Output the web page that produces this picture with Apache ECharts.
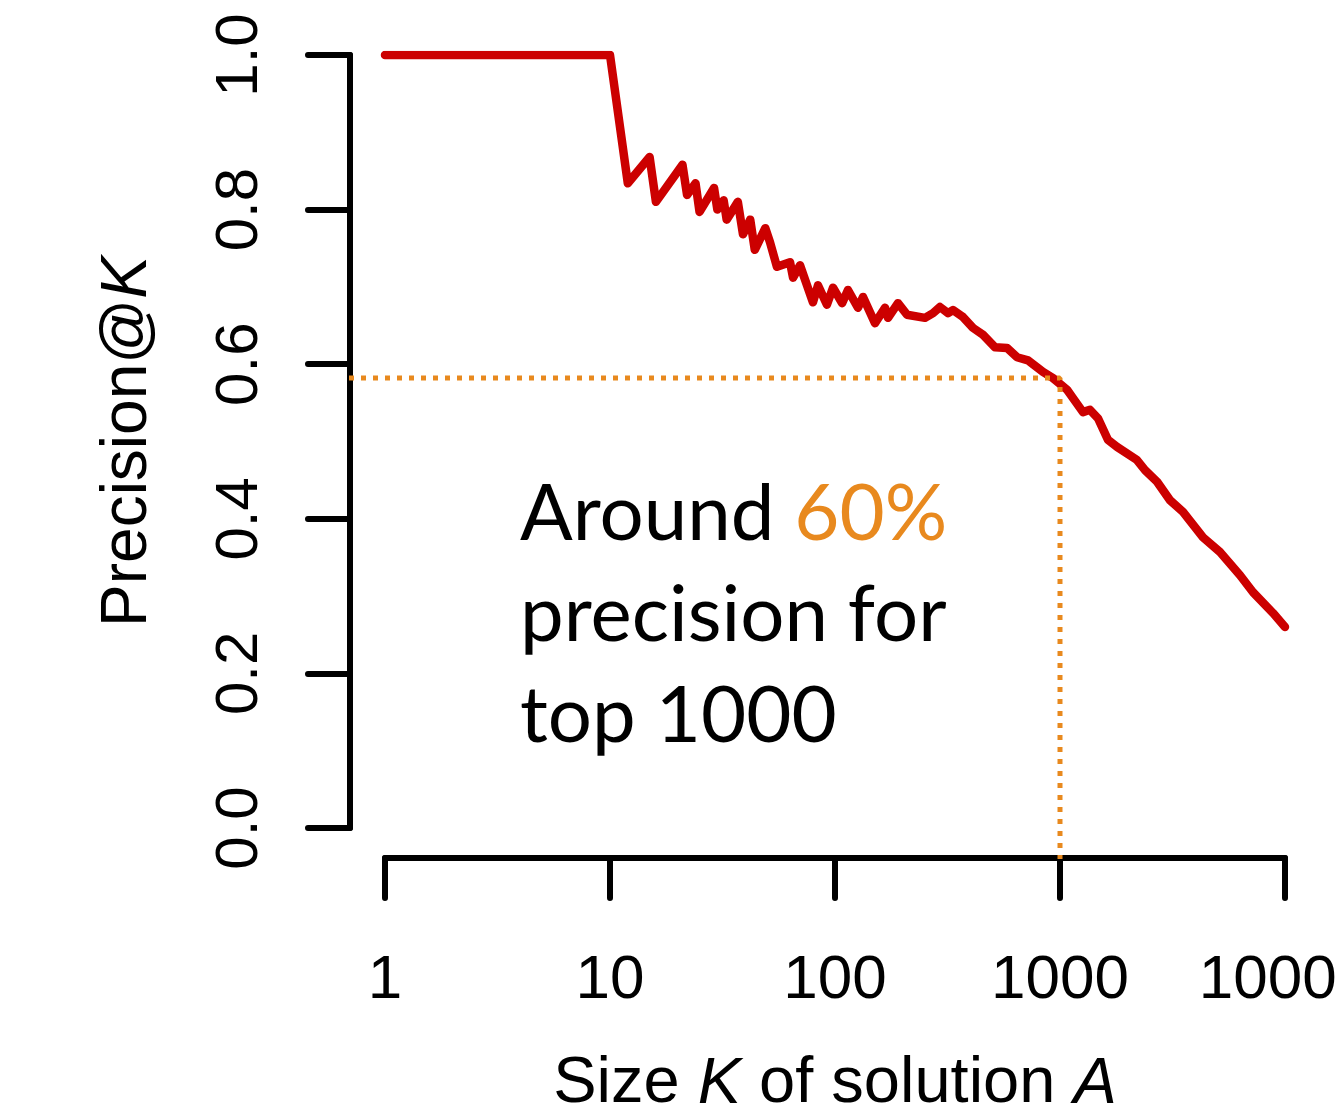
<!DOCTYPE html>
<html>
<head>
<meta charset="utf-8">
<script src="https://cdn.jsdelivr.net/npm/echarts@6/dist/echarts.min.js"></script>
<style>
html,body{margin:0;padding:0;background:#fff;}
#chart{width:1336px;height:1117px;}
</style>
</head>
<body>
<div id="chart"></div>
<script>
// Size K of solution A (log scale)
const kValues = [1,10,12,15,16,21,22,24,25,29,30,32,33,37,39,42,44,49,51.4,55.2,63.1,65.1,69.9,79.8,84,92.1,98,107.5,114.2,126.5,133.2,150.6,166.8,172,190.5,208.9,251.2,272.7,292.9,317.9,334.4,370.7,410.4,454.7,514,581.2,644,720.8,840.2,931.1,1075,1130,1265,1359,1475,1635,1792,2199,2387,2700,3083,3520,4322,5140,6310,7210,8850,10000];
// Precision@K
const precision = [1,1,0.834,0.868,0.810,0.858,0.819,0.834,0.797,0.828,0.800,0.812,0.787,0.810,0.768,0.787,0.748,0.776,0.758,0.726,0.732,0.712,0.728,0.680,0.702,0.677,0.699,0.679,0.696,0.673,0.687,0.653,0.673,0.660,0.679,0.664,0.660,0.666,0.674,0.666,0.670,0.661,0.647,0.638,0.622,0.621,0.609,0.605,0.590,0.582,0.567,0.558,0.538,0.541,0.530,0.502,0.493,0.476,0.463,0.448,0.424,0.409,0.376,0.357,0.327,0.305,0.278,0.260];
// Plot-region extents (data range padded by 4%, as in the original R plot)
const regionK = [0.6918, 14454];
const regionP = [-0.04, 1.04];
// Reference (dotted) guide at K = 1000, drawn from the left edge and down to the bottom edge
const refK = [0.6918, 1000, 1000];
const refP = [0.582, 0.582, -0.04];
// Tick labels
const xTickLabels = ["1","10","100","1000","10000"];
const yTickLabels = ["0.0","0.2","0.4","0.6","0.8","1.0"];
// Texts
const xTitle = "Size {i|K} of solution {i|A}";
const yTitle = "Precision@{i|K}";
const noteLine1 = "Around ";
const noteHighlight = "60%";
const noteLine2 = "precision for";
const noteLine3 = "top 1000";

const RED = '#CC0000';
const ORANGE = '#E8891E';
const FONT = '"Liberation Sans", Arial, sans-serif';

const mainData = kValues.map((k, i) => [k, precision[i]]);
const refData = refK.map((k, i) => [k, refP[i]]);

const chart = echarts.init(document.getElementById('chart'), null, {renderer: 'canvas'});

const axisLineStyle = {color: '#000', width: 6, cap: 'round'};
const tickLineStyle = {color: '#000', width: 6, cap: 'round'};

chart.setOption({
  animation: false,
  backgroundColor: '#fff',
  grid: [
    {left: 385, right: 51, top: 55, bottom: 289, containLabel: false, outerBoundsMode: 'none'},
    {left: 349, right: 15, top: 24, bottom: 258, containLabel: false, outerBoundsMode: 'none'}
  ],
  xAxis: [{
    gridIndex: 0,
    type: 'log',
    logBase: 10,
    min: 1,
    max: 10000,
    offset: 30,
    position: 'bottom',
    splitLine: {show: false},
    minorTick: {show: false},
    axisLine: {show: true, onZero: false, lineStyle: axisLineStyle},
    axisTick: {show: true, length: 40, lineStyle: tickLineStyle},
    axisLabel: {
      show: true, margin: 92, color: '#000', fontSize: 62, fontFamily: FONT,
      showMinLabel: true, showMaxLabel: true, hideOverlap: false,
      formatter: v => {
        const idx = Math.round(Math.log10(v));
        return xTickLabels[idx] !== undefined ? xTickLabels[idx] : '';
      }
    },
    name: xTitle,
    nameLocation: 'middle',
    nameGap: 194,
    nameTextStyle: {
      color: '#000', fontSize: 65, fontFamily: FONT,
      rich: {i: {fontStyle: 'italic', fontSize: 65, fontFamily: FONT, color: '#000'}}
    }
  }, {
    gridIndex: 1,
    type: 'log',
    logBase: 10,
    min: regionK[0],
    max: regionK[1],
    show: false
  }],
  yAxis: [{
    gridIndex: 0,
    type: 'value',
    min: 0,
    max: 1,
    interval: 0.2,
    offset: 35,
    position: 'left',
    splitLine: {show: false},
    axisLine: {show: true, onZero: false, lineStyle: axisLineStyle},
    axisTick: {show: true, length: 42, lineStyle: tickLineStyle},
    axisLabel: {
      show: true, rotate: 90, margin: 80, color: '#000', fontSize: 60, fontFamily: FONT,
      formatter: v => yTickLabels[Math.round(v * 5)]
    },
    name: yTitle,
    nameLocation: 'middle',
    nameGap: 190,
    nameRotate: 90,
    nameTextStyle: {
      color: '#000', fontSize: 64, fontFamily: FONT,
      rich: {i: {fontStyle: 'italic', fontSize: 64, fontFamily: FONT, color: '#000'}}
    }
  }, {
    gridIndex: 1,
    type: 'value',
    min: regionP[0],
    max: regionP[1],
    show: false
  }],
  series: [
    {
      type: 'line',
      xAxisIndex: 0,
      yAxisIndex: 0,
      data: mainData,
      showSymbol: false,
      symbol: 'none',
      lineStyle: {color: RED, width: 8.5, join: 'round', cap: 'round'},
      z: 2
    },
    {
      type: 'line',
      xAxisIndex: 1,
      yAxisIndex: 1,
      data: refData,
      showSymbol: false,
      symbol: 'none',
      clip: false,
      lineStyle: {color: ORANGE, width: 5, type: [5, 7], cap: 'butt'},
      z: 3
    }
  ],
  graphic: [
    {
      type: 'text',
      left: 520,
      top: 464,
      z: 10,
      style: {
        text: noteLine1 + '{o|' + noteHighlight + '}\n' + noteLine2 + '\n' + noteLine3,
        fill: '#000',
        font: '78px Lato, "Open Sans", sans-serif',
        lineHeight: 101,
        rich: {
          o: {fill: ORANGE, fontSize: 78, fontFamily: 'Lato, "Open Sans", sans-serif', lineHeight: 101}
        }
      }
    }
  ]
});
</script>
</body>
</html>
